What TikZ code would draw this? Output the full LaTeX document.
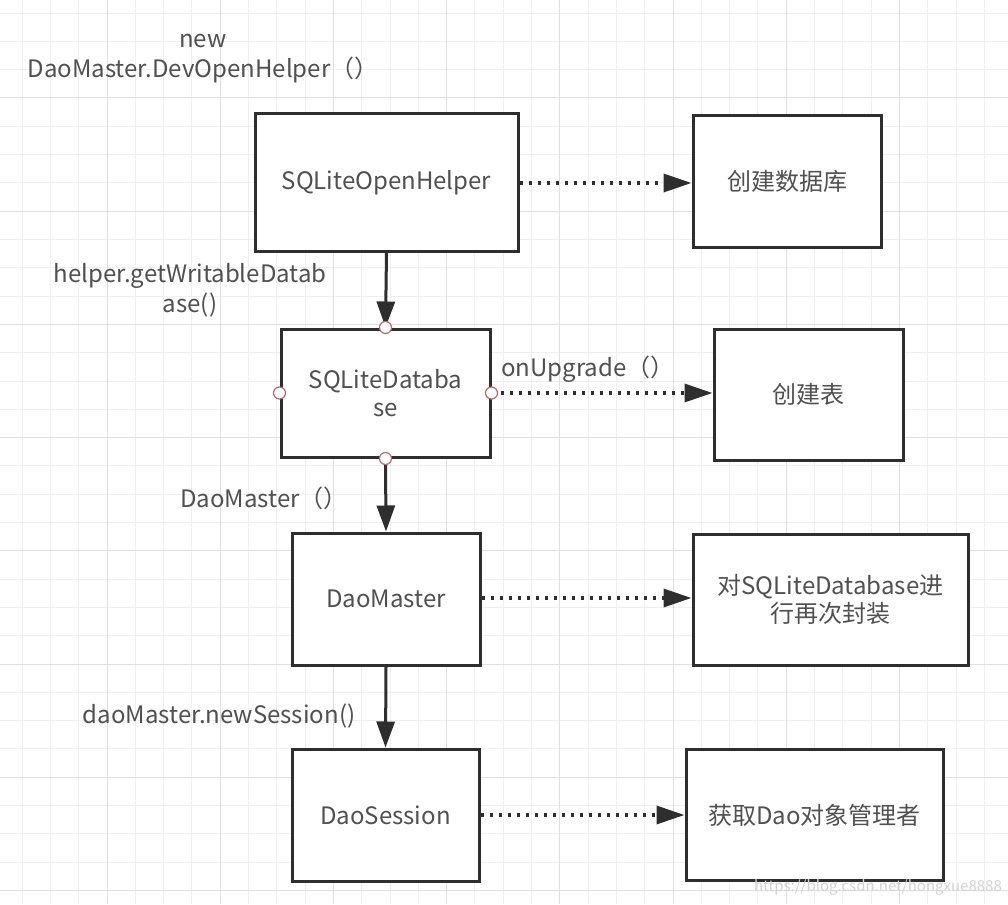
\documentclass[tikz,border=0pt]{standalone}
\usepackage{fontspec}
\setmainfont{Noto Sans CJK SC}
\usetikzlibrary{arrows.meta}
\definecolor{gridminor}{HTML}{EFEFEF}
\definecolor{gridmajor}{HTML}{E0E0E0}
\definecolor{boxline}{HTML}{2E2E2E}
\definecolor{txt}{HTML}{505050}
\definecolor{portred}{HTML}{B86A6A}
\tikzset{
  box/.style={draw=boxline, line width=3pt, fill=white, inner sep=0pt, align=center,
     text=txt, font=\fontsize{24}{28}\selectfont},
  lbl/.style={text=txt, font=\fontsize{24}{30}\selectfont, align=center, inner sep=0pt},
  solidarrow/.style={draw=boxline, line width=3pt, -{Triangle[length=26pt,width=18pt]}},
  dotarrow/.style={draw=boxline, line width=3.5pt, dash pattern=on 3pt off 6pt,
     -{Triangle[length=28pt,width=18pt]}},
  port/.style={circle, draw=portred, line width=1.2pt, fill=white, minimum size=12pt, inner sep=0pt}
}
\begin{document}
\begin{tikzpicture}[x=1pt,y=-1pt]
\useasboundingbox (0,0) rectangle (1008,904);
\fill[white] (0,0) rectangle (1008,904);
% grid
\foreach \k in {0,...,35} {
  \draw[gridminor, line width=1pt] ({22.1+28.3*\k},0) -- ({22.1+28.3*\k},904);
}
\foreach \k in {0,...,31} {
  \draw[gridminor, line width=1pt] (0,{13.1+28.3*\k}) -- (1008,{13.1+28.3*\k});
}
\foreach \k in {0,...,8} {
  \draw[gridmajor, line width=1pt] ({107+113.2*\k},0) -- ({107+113.2*\k},904);
}
\foreach \k in {0,...,7} {
  \draw[gridmajor, line width=1pt] (0,{98+113.2*\k}) -- (1008,{98+113.2*\k});
}
% boxes
\node[box, minimum width=263pt, minimum height=137pt] (b1) at (386.5,182.5) {SQLiteOpenHelper};
\node[box, minimum width=188pt, minimum height=131pt] (b2) at (787,181.5) {创建数据库};
\node[box, minimum width=209pt, minimum height=128pt] (b3) at (385.5,393) {SQLiteDataba\\se};
\node[box, minimum width=189pt, minimum height=131pt] (b4) at (808.5,394.5) {创建表};
\node[box, minimum width=188pt, minimum height=132pt] (b5) at (386,599) {DaoMaster};
\node[box, minimum width=275pt, minimum height=131pt] (b6) at (830.5,599.5) {对SQLiteDatabase进\\行再次封装};
\node[box, minimum width=187pt, minimum height=132pt] (b7) at (385.5,815) {DaoSession};
\node[box, minimum width=257pt, minimum height=131pt] (b8) at (814.5,815) {获取Dao对象管理者};
% solid arrows
\draw[solidarrow] (b1.south) -- (b3.north);
\draw[solidarrow] (b3.south) -- (b5.north);
\draw[solidarrow] (b5.south) -- (b7.north);
% dotted arrows
\draw[dotarrow] (b1.east |- 0,183) -- (b2.west |- 0,183);
\draw[dotarrow] (b3.east) -- (b4.west |- b3.east);
\draw[dotarrow] (b5.east |- 0,598) -- (b6.west |- 0,598);
\draw[dotarrow] (b7.east) -- (b8.west |- b7.east);
% ports
\node[port] (p1) at (b3.north) {};
\node[port] (p2) at (b3.south) {};
\node[port] (p3) at (b3.west) {};
\node[port] (p4) at (b3.east) {};
% labels
\node[lbl] (l1) at (203,59) {new\\DaoMaster.DevOpenHelper（）};
\node[lbl] (l2) at (190,290) {helper.getWritableDatab\\ase()};
\node[lbl] (l3) at (588,369) {onUpgrade（）};
\node[lbl] (l4) at (264,498) {DaoMaster（）};
\node[lbl] (l5) at (219,716) {daoMaster.newSession()};
\node[text=gray!35, font=\fontsize{15}{18}\selectfont, inner sep=0pt] (wm) at (878,887) {https://blog.csdn.net/hongxue8888};
\end{tikzpicture}
\end{document}
